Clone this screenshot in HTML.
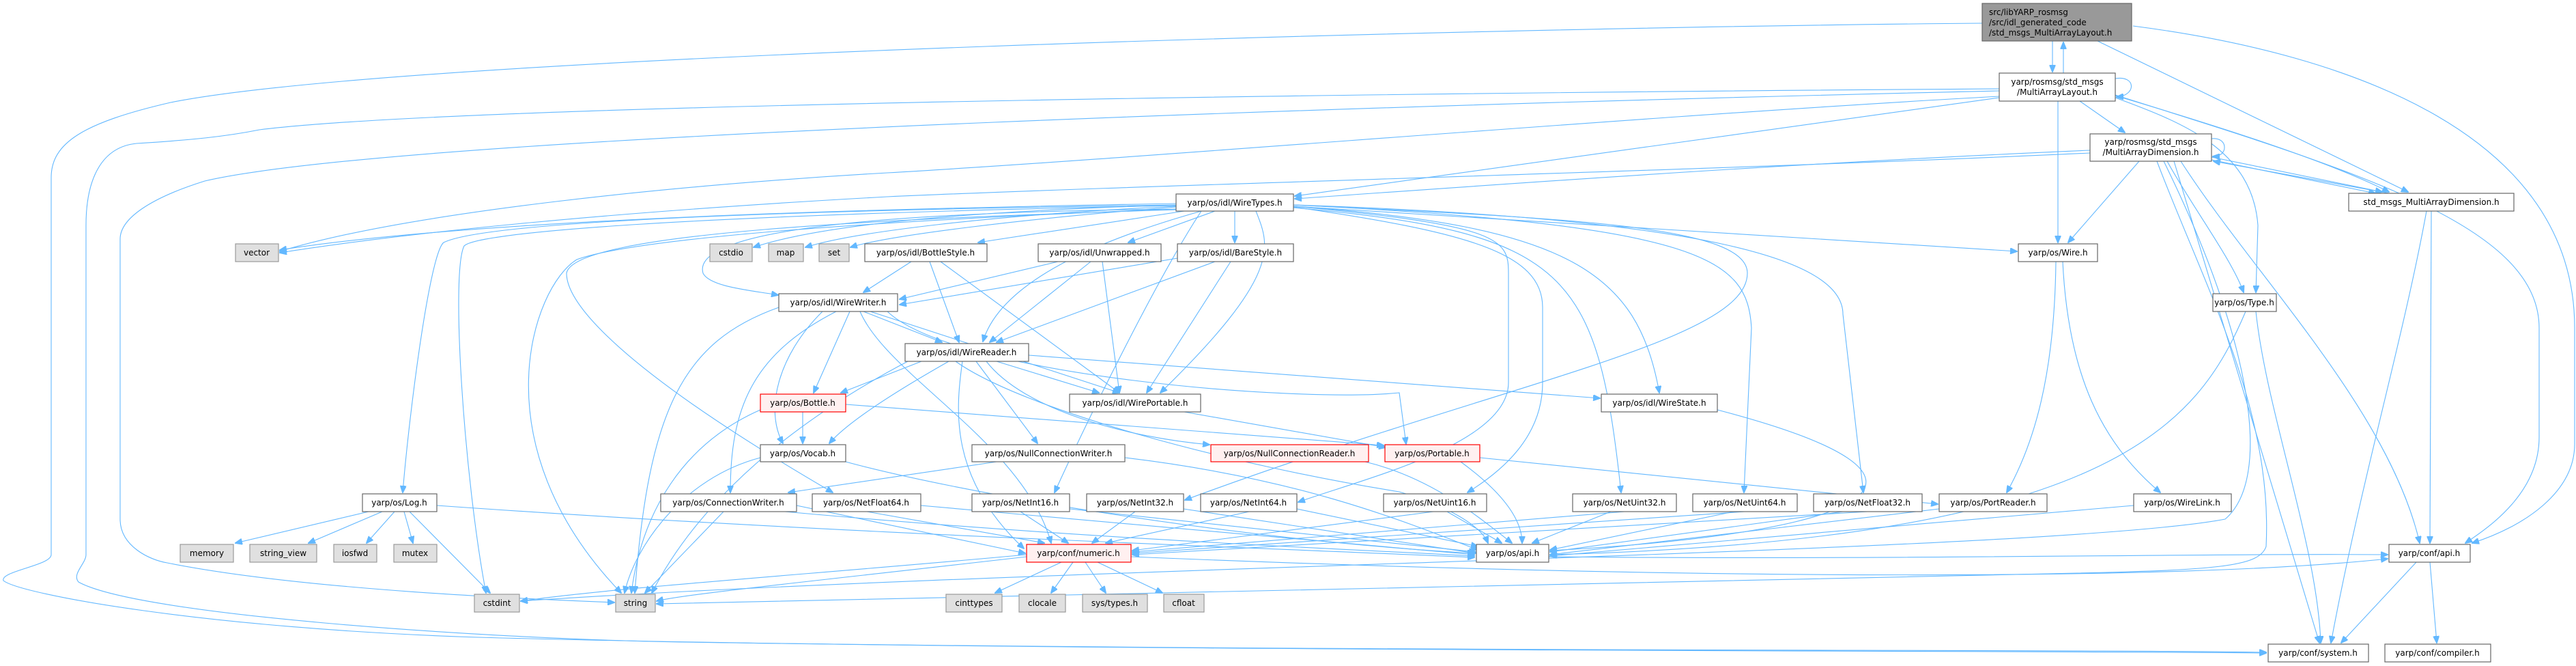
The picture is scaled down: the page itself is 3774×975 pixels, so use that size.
<!DOCTYPE html>
<html><head><meta charset="utf-8"><style>
html,body{margin:0;padding:0;background:#fff;}
svg{display:block;}
text{font-family:"DejaVu Sans","Liberation Sans",sans-serif;font-size:12px;fill:#000;}
.n{fill:#fff;stroke:#666;stroke-width:1.2;}
.x{fill:#e0e0e0;stroke:#999;stroke-width:1.2;}
.r{fill:#fff0f0;stroke:#f00;stroke-width:1.2;}
.m{fill:#999;stroke:#666;stroke-width:1.2;}
path{fill:none;stroke:#63b8ff;stroke-width:1.1;}
</style></head><body>
<svg width="3774" height="975" viewBox="0 0 3774 975" xmlns="http://www.w3.org/2000/svg">
<defs><marker id="a" markerWidth="11" markerHeight="9" refX="10" refY="4.5" orient="auto" markerUnits="userSpaceOnUse"><path d="M0,0 L11,4.5 L0,9 z" style="fill:#63b8ff;stroke:#63b8ff"/></marker></defs>
<g marker-end="url(#a)">
<path d="M3007,60 L3007,105"/>
<path d="M3023,107 L3023,62"/>
<path d="M3073,60 L3528,281"/>
<path d="M3125,38 C3450,80 3772,200 3772,480 L3772,650 C3772,720 3700,770 3622,795"/>
<path d="M2904,34 C2200,40 600,80 250,150 C120,180 75,210 75,260 L75,812 C75,828 0,836 5,850 C30,870 300,920 700,933 C1500,955 3000,952 3320,956"/>
<path d="M2929,130 C2200,135 700,150 380,190 C330,200 280,205 200,210 C150,215 126,260 126,330 L126,812 C126,825 105,840 115,852 C200,900 700,935 1000,940 C2000,955 3000,950 3320,955"/>
<path d="M2929,133 C2200,150 600,195 300,265 C220,290 176,320 176,350 L176,760 C176,800 220,820 245,824 C450,865 800,878 900,882"/>
<path d="M2929,141 C2400,170 1700,230 1300,253 C1000,270 600,310 410,368"/>
<path d="M2929,143 C2500,200 2100,260 1897,287"/>
<path d="M3099,115 C3130,110 3130,140 3101,142"/>
<path d="M3047,148 L3113,194"/>
<path d="M3015,148 L3015,355"/>
<path d="M3099,143 C3200,180 3300,220 3308,330 L3305,428"/>
<path d="M3099,140 C3200,170 3400,230 3500,281"/>
<path d="M3099,139 C3450,250 3720,330 3720,480 L3720,640 C3720,720 3650,770 3612,795"/>
<path d="M3240,203 C3265,200 3265,230 3242,229"/>
<path d="M3240,230 L3490,281"/>
<path d="M3240,234 L3480,283"/>
<path d="M3500,283 L3243,236"/>
<path d="M3062,220 C2600,240 2200,270 1897,291"/>
<path d="M3062,224 C2500,250 1700,270 1300,288 C900,310 600,340 410,370"/>
<path d="M3134,236 L3030,355"/>
<path d="M3175,236 C3210,300 3270,380 3287,428"/>
<path d="M3160,236 C3230,420 3330,600 3320,800 C3310,830 3250,835 3000,840 C2000,860 1200,875 962,884"/>
<path d="M3185,236 L3398,941"/>
<path d="M3195,236 C3300,400 3500,600 3545,795"/>
<path d="M3170,236 C3300,500 3330,700 3260,760 C3000,810 1500,830 763,880"/>
<path d="M3562,309 L3560,795"/>
<path d="M3555,309 C3520,500 3460,700 3415,941"/>
<path d="M3012,383 C3010,550 2980,650 2940,721"/>
<path d="M3022,383 C3030,550 3080,650 3165,721"/>
<path d="M3290,456 C3220,620 3100,790 2271,812"/>
<path d="M3305,456 C3320,600 3395,800 3400,941"/>
<!-- Net rows -->
<path d="M1495,749 L1565,795"/><path d="M1567,745 L2162,808"/>
<path d="M1663,749 L1600,795"/><path d="M1734,745 L2162,810"/>
<path d="M1830,749 L1620,795"/><path d="M1900,745 L2165,800"/>
<path d="M2100,749 L1659,806"/><path d="M2120,749 L2200,795"/>
<path d="M2380,749 L1659,808"/><path d="M2360,749 L2245,795"/>
<path d="M2556,749 L1659,810"/><path d="M2540,749 L2271,805"/>
<path d="M2736,749 L1659,812"/><path d="M2700,749 L2271,808"/>
<path d="M1270,749 L1530,795"/><path d="M1349,740 L2160,812"/>
<path d="M2841,745 L2271,812"/>
<path d="M3126,740 L2271,814"/>
<path d="M1060,749 L945,868"/><path d="M1150,749 C1600,790 2000,805 2160,814"/><path d="M1167,740 L1502,810"/>
<path d="M540,749 L345,795"/><path d="M560,749 L452,795"/><path d="M578,749 L537,795"/><path d="M592,749 L605,795"/><path d="M600,749 L718,868"/>
<path d="M640,740 C1200,780 1800,800 2160,816"/>
<path d="M1555,823 L1458,868"/><path d="M1572,823 L1540,868"/><path d="M1590,823 L1620,868"/><path d="M1608,823 L1703,868"/>
<path d="M1504,815 C1200,850 1000,870 962,880"/>
<path d="M1504,812 C1200,840 900,860 763,880"/>
<path d="M1657,815 C2500,850 3200,850 3498,818"/>
<path d="M2269,815 C2800,820 3200,810 3498,812"/>
<path d="M3540,823 L3430,941"/><path d="M3560,823 L3570,941"/>
<!-- WireTypes -->
<path d="M1723,298 C1300,305 700,320 410,366"/>
<path d="M1723,300 C1400,310 1200,330 1104,362"/>
<path d="M1723,302 C1450,315 1250,340 1180,362"/>
<path d="M1723,303 C1500,320 1300,345 1246,362"/>
<path d="M1735,309 L1433,355"/>
<path d="M1780,309 L1653,355"/>
<path d="M1809,309 L1809,355"/>
<path d="M1723,306 C1350,310 1010,330 1030,400 C1040,420 1100,425 1140,432"/>
<path d="M1760,309 C1650,340 1470,400 1440,500"/>
<path d="M1840,309 C1860,360 1880,400 1700,575"/>
<path d="M1723,300 C1000,310 700,330 650,355 C630,370 600,600 590,721"/>
<path d="M1723,301 C1000,315 700,340 680,360 C660,400 680,700 712,868"/>
<path d="M1723,306 C1100,330 900,360 845,380 C780,420 700,650 910,868"/>
<path d="M1723,307 C1300,320 840,340 830,400 C830,420 840,500 1220,721"/>
<path d="M1760,309 C1700,400 1600,600 1545,721"/>
<path d="M1895,300 C2300,320 2560,330 2560,400 C2560,500 2200,560 1736,732"/>
<path d="M1895,302 C2200,330 2210,350 2210,400 L2210,560 C2210,650 2000,700 1902,735"/>
<path d="M1895,303 C2150,340 2260,370 2260,450 L2260,560 C2260,640 2200,690 2150,721"/>
<path d="M1895,304 C2300,340 2340,400 2375,721"/>
<path d="M1895,302 C2300,330 2400,400 2431,575"/>
<path d="M1895,300 C2500,330 2560,380 2566,480 L2555,721"/>
<path d="M1895,300 C2500,320 2700,380 2700,460 L2730,721"/>
<path d="M1895,302 L2955,368"/>
<!-- styles -->
<path d="M1335,383 L1265,428"/><path d="M1362,383 L1405,501"/><path d="M1378,383 L1640,575"/>
<path d="M1550,383 L1318,438"/><path d="M1598,383 L1450,501"/><path d="M1615,383 L1640,575"/>
<path d="M1725,378 L1318,446"/><path d="M1780,383 L1460,501"/><path d="M1803,383 L1680,575"/>
<!-- WireWriter -->
<path d="M1265,456 L1380,501"/>
<path d="M1245,456 L1192,575"/>
<path d="M1205,456 C1140,520 1120,600 1147,649"/>
<path d="M1225,456 C1100,520 1070,600 1070,721"/>
<path d="M1275,456 L1640,575"/>
<path d="M1141,450 C1000,500 950,600 930,868"/>
<path d="M1260,456 C1300,550 1500,650 1540,795"/>
<path d="M1300,456 C1400,550 1900,590 2050,575 L2060,650"/>
<!-- WireReader -->
<path d="M1460,529 L1610,575"/>
<path d="M1507,520 L2344,583"/>
<path d="M1430,529 L1520,649"/>
<path d="M1445,529 C1500,600 1650,640 1772,651"/>
<path d="M1350,529 L1232,575"/>
<path d="M1390,529 C1300,580 1240,620 1215,649"/>
<path d="M1410,529 C1400,600 1390,700 1500,803"/>
<path d="M1330,529 C1100,650 1000,780 955,868"/>
<path d="M1400,529 C1500,600 1800,680 2050,720 C2120,740 2170,770 2180,795"/>
<!-- others -->
<path d="M1176,603 L1176,649"/>
<path d="M1239,592 L2027,652"/>
<path d="M1114,600 C1000,650 940,750 925,868"/>
<path d="M1114,670 C1000,700 930,800 915,868"/>
<path d="M1239,676 C1400,720 1800,790 2160,810"/>
<path d="M1735,603 L2030,655"/>
<path d="M1460,676 L1155,721"/>
<path d="M1648,670 C1900,700 2050,760 2165,805"/>
<path d="M2000,676 C2100,700 2170,760 2215,795"/>
<path d="M2140,676 C2200,720 2230,760 2230,795"/>
<path d="M2168,670 L2839,738"/>
<path d="M2516,600 C2900,700 2750,780 2271,806"/>
</g>
<!-- nodes -->
<rect class="m" x="2904" y="5" width="219" height="55"/>
<text x="2914" y="22">src/libYARP_rosmsg</text>
<text x="2914" y="37">/src/idl_generated_code</text>
<text x="2914" y="52">/std_msgs_MultiArrayLayout.h</text>
<rect class="n" x="2929" y="107" width="170" height="41"/>
<text x="3014" y="124" text-anchor="middle">yarp/rosmsg/std_msgs</text>
<text x="3014" y="139" text-anchor="middle">/MultiArrayLayout.h</text>
<rect class="n" x="3062" y="196" width="178" height="40"/>
<text x="3151" y="212" text-anchor="middle">yarp/rosmsg/std_msgs</text>
<text x="3151" y="227" text-anchor="middle">/MultiArrayDimension.h</text>
<g text-anchor="middle">
<rect class="n" x="3441" y="283" width="242" height="26"/><text x="3562" y="300">std_msgs_MultiArrayDimension.h</text>
<rect class="n" x="1723" y="284" width="172" height="25"/><text x="1809" y="301">yarp/os/idl/WireTypes.h</text>
<rect class="x" x="345" y="357" width="63" height="26"/><text x="376" y="374">vector</text>
<rect class="x" x="1040" y="357" width="62" height="26"/><text x="1071" y="374">cstdio</text>
<rect class="x" x="1126" y="357" width="51" height="26"/><text x="1151" y="374">map</text>
<rect class="x" x="1200" y="357" width="44" height="26"/><text x="1222" y="374">set</text>
<rect class="n" x="1267" y="357" width="179" height="26"/><text x="1356" y="374">yarp/os/idl/BottleStyle.h</text>
<rect class="n" x="1521" y="357" width="180" height="26"/><text x="1611" y="374">yarp/os/idl/Unwrapped.h</text>
<rect class="n" x="1725" y="357" width="170" height="26"/><text x="1810" y="374">yarp/os/idl/BareStyle.h</text>
<rect class="n" x="2957" y="357" width="116" height="26"/><text x="3015" y="374">yarp/os/Wire.h</text>
<rect class="n" x="1141" y="430" width="174" height="26"/><text x="1228" y="447">yarp/os/idl/WireWriter.h</text>
<rect class="n" x="3242" y="430" width="93" height="26"/><text x="3288" y="447">yarp/os/Type.h</text>
<rect class="n" x="1326" y="503" width="181" height="26"/><text x="1416" y="520">yarp/os/idl/WireReader.h</text>
<rect class="r" x="1114" y="577" width="125" height="26"/><text x="1176" y="594">yarp/os/Bottle.h</text>
<rect class="n" x="1567" y="577" width="192" height="26"/><text x="1663" y="594">yarp/os/idl/WirePortable.h</text>
<rect class="n" x="2346" y="577" width="170" height="26"/><text x="2431" y="594">yarp/os/idl/WireState.h</text>
<rect class="n" x="1114" y="651" width="125" height="25"/><text x="1176" y="668">yarp/os/Vocab.h</text>
<rect class="n" x="1424" y="651" width="224" height="25"/><text x="1536" y="668">yarp/os/NullConnectionWriter.h</text>
<rect class="r" x="1774" y="651" width="231" height="25"/><text x="1889" y="668">yarp/os/NullConnectionReader.h</text>
<rect class="r" x="2029" y="651" width="139" height="25"/><text x="2098" y="668">yarp/os/Portable.h</text>
<rect class="n" x="531" y="723" width="109" height="26"/><text x="585" y="740">yarp/os/Log.h</text>
<rect class="n" x="968" y="723" width="199" height="26"/><text x="1067" y="740">yarp/os/ConnectionWriter.h</text>
<rect class="n" x="1190" y="723" width="159" height="26"/><text x="1269" y="740">yarp/os/NetFloat64.h</text>
<rect class="n" x="1424" y="723" width="143" height="26"/><text x="1495" y="740">yarp/os/NetInt16.h</text>
<rect class="n" x="1592" y="723" width="142" height="26"/><text x="1663" y="740">yarp/os/NetInt32.h</text>
<rect class="n" x="1759" y="723" width="141" height="26"/><text x="1829" y="740">yarp/os/NetInt64.h</text>
<rect class="n" x="2027" y="723" width="151" height="26"/><text x="2102" y="740">yarp/os/NetUint16.h</text>
<rect class="n" x="2304" y="723" width="152" height="26"/><text x="2380" y="740">yarp/os/NetUint32.h</text>
<rect class="n" x="2480" y="723" width="153" height="26"/><text x="2556" y="740">yarp/os/NetUint64.h</text>
<rect class="n" x="2657" y="723" width="159" height="26"/><text x="2736" y="740">yarp/os/NetFloat32.h</text>
<rect class="n" x="2841" y="723" width="158" height="26"/><text x="2920" y="740">yarp/os/PortReader.h</text>
<rect class="n" x="3126" y="723" width="143" height="26"/><text x="3197" y="740">yarp/os/WireLink.h</text>
<rect class="x" x="264" y="797" width="78" height="26"/><text x="303" y="814">memory</text>
<rect class="x" x="366" y="797" width="98" height="26"/><text x="415" y="814">string_view</text>
<rect class="x" x="489" y="797" width="63" height="26"/><text x="520" y="814">iosfwd</text>
<rect class="x" x="577" y="797" width="63" height="26"/><text x="608" y="814">mutex</text>
<rect class="r" x="1504" y="797" width="153" height="26"/><text x="1580" y="814">yarp/conf/numeric.h</text>
<rect class="n" x="2163" y="797" width="106" height="26"/><text x="2216" y="814">yarp/os/api.h</text>
<rect class="n" x="3500" y="797" width="119" height="26"/><text x="3559" y="814">yarp/conf/api.h</text>
<rect class="x" x="695" y="870" width="66" height="26"/><text x="728" y="887">cstdint</text>
<rect class="x" x="902" y="870" width="58" height="26"/><text x="931" y="887">string</text>
<rect class="x" x="1386" y="870" width="82" height="26"/><text x="1427" y="887">cinttypes</text>
<rect class="x" x="1493" y="870" width="68" height="26"/><text x="1527" y="887">clocale</text>
<rect class="x" x="1586" y="870" width="95" height="26"/><text x="1633" y="887">sys/types.h</text>
<rect class="x" x="1705" y="870" width="59" height="26"/><text x="1734" y="887">cfloat</text>
<rect class="n" x="3323" y="943" width="147" height="26"/><text x="3396" y="960">yarp/conf/system.h</text>
<rect class="n" x="3494" y="943" width="155" height="26"/><text x="3571" y="960">yarp/conf/compiler.h</text>
</g>
</svg>
</body></html>
